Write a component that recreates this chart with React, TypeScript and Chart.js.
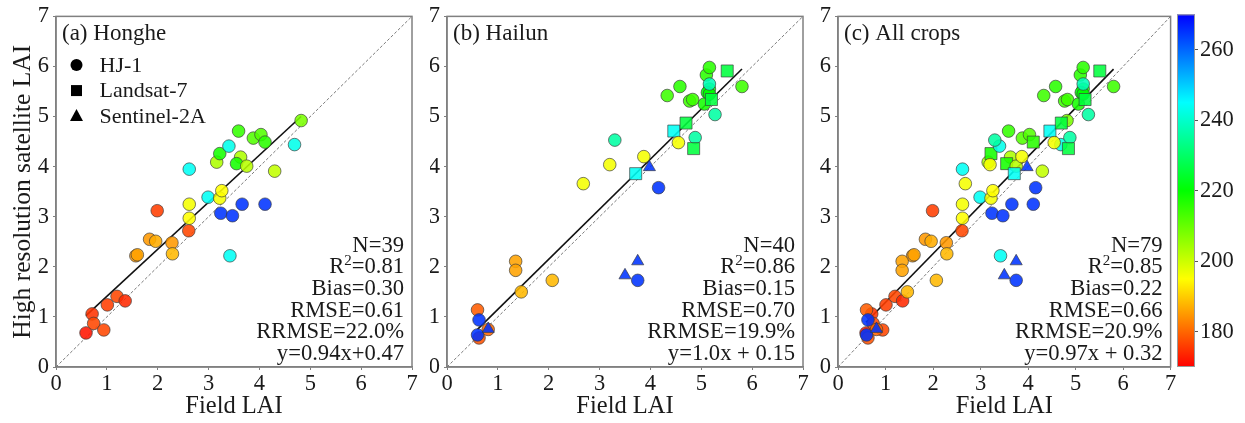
import React, { useEffect, useRef } from 'react';
import { Chart, registerables } from 'chart.js';

Chart.register(...registerables);

const FONT = "'Liberation Serif', 'Times New Roman', serif";

// ---------------- data ----------------
// (a) Honghe: field LAI, satellite LAI, DOY, sensor (H = HJ-1, L = Landsat-7, S = Sentinel-2A)
const hongheField = [0.59, 0.71, 0.74, 0.94, 1.01, 1.2, 1.36, 1.57, 1.6, 1.84, 1.96, 1.99, 2.28, 2.29, 2.61, 2.62, 2.62, 2.62, 2.99, 3.22, 3.26, 3.16, 3.22, 3.4, 3.24, 3.47, 3.66, 4.11, 3.42, 3.59, 3.63, 3.55, 3.75, 3.88, 4.03, 4.11, 4.3, 4.69, 4.82];
const hongheSat = [0.68, 1.06, 0.87, 0.74, 1.24, 1.41, 1.32, 2.22, 2.24, 2.55, 2.51, 3.12, 2.48, 2.26, 2.72, 2.97, 3.25, 3.95, 3.39, 3.37, 3.52, 4.09, 4.26, 4.41, 3.07, 3.02, 3.25, 3.25, 2.22, 4.71, 4.19, 4.06, 4.01, 4.57, 4.64, 4.49, 3.91, 4.44, 4.92];
const hongheDoy = [172, 175, 177, 177, 176, 177, 174, 185, 186, 185, 187, 176, 185, 188, 177, 195, 196, 244, 244, 196, 195, 203, 218, 243, 265, 265, 265, 265, 244, 215, 203, 218, 202, 212, 212, 216, 201, 243, 208];
const hongheSensor = ['H', 'H', 'H', 'H', 'H', 'H', 'H', 'H', 'H', 'H', 'H', 'H', 'H', 'H', 'H', 'H', 'H', 'H', 'H', 'H', 'H', 'H', 'H', 'H', 'H', 'H', 'H', 'H', 'H', 'H', 'H', 'H', 'H', 'H', 'H', 'H', 'H', 'H', 'H'];

// (b) Hailun
const hailunField = [0.63, 0.6, 0.81, 0.6, 0.63, 0.81, 1.35, 1.35, 1.46, 2.07, 2.68, 3.2, 3.3, 3.87, 3.71, 3.98, 4.16, 3.5, 3.75, 3.75, 4.33, 4.58, 4.46, 4.7, 4.55, 4.77, 4.83, 4.88, 4.85, 5.06, 5.1, 5.16, 5.16, 5.12, 5.16, 5.16, 5.2, 5.27, 5.51, 5.8];
const hailunSat = [0.58, 1.14, 0.75, 0.64, 0.94, 0.76, 2.11, 1.93, 1.5, 1.73, 3.66, 4.04, 4.53, 4.2, 3.86, 3.99, 3.58, 1.83, 2.11, 1.73, 5.42, 5.6, 4.71, 4.87, 4.48, 5.31, 5.34, 4.58, 4.36, 5.25, 5.83, 5.98, 5.55, 5.48, 5.45, 5.65, 5.34, 5.04, 5.91, 5.6];
const hailunDoy = [178, 179, 180, 265, 265, 265, 186, 186, 188, 188, 196, 196, 236, 196, 244, 265, 265, 265, 265, 265, 214, 216, 244, 226, 196, 214, 214, 236, 226, 218, 216, 216, 218, 220, 220, 238, 226, 236, 226, 214];
const hailunSensor = ['H', 'H', 'H', 'H', 'H', 'S', 'H', 'H', 'H', 'H', 'H', 'H', 'H', 'H', 'L', 'S', 'H', 'S', 'S', 'H', 'H', 'H', 'L', 'L', 'H', 'H', 'H', 'H', 'L', 'H', 'H', 'H', 'H', 'H', 'H', 'H', 'L', 'H', 'L', 'H'];

// (c) All crops = Honghe + Hailun; these Honghe points are drawn as Landsat-7 squares in (c)
const allCropsHongheSquares = [22, 31, 35];

const hongheStats = ['N=39', 'R2=0.81', 'Bias=0.30', 'RMSE=0.61', 'RRMSE=22.0%', 'y=0.94x+0.47'];
const hailunStats = ['N=40', 'R2=0.86', 'Bias=0.15', 'RMSE=0.70', 'RRMSE=19.9%', 'y=1.0x + 0.15'];
const allStats = ['N=79', 'R2=0.85', 'Bias=0.22', 'RMSE=0.66', 'RRMSE=20.9%', 'y=0.97x + 0.32'];

const fitA = [0.94, 0.47];
const fitB = [1.0, 0.15];
const fitC = [0.97, 0.32];

const axisTicks = [0, 1, 2, 3, 4, 5, 6, 7];
const colorbarTicks = [180, 200, 220, 240, 260];
const legendLabels = ['HJ-1', 'Landsat-7', 'Sentinel-2A'];
const legendSensors = ['H', 'L', 'S'];

const DOY_MIN = 170;
const DOY_MAX = 270;

// ---------------- helpers ----------------
function doyColor(d: number, a = 0.88) {
  const t = Math.min(1, Math.max(0, (d - DOY_MIN) / (DOY_MAX - DOY_MIN)));
  return `hsla(${(240 * t).toFixed(1)}, 100%, 50%, ${a})`;
}
const SHAPE: Record<string, string> = { H: 'circle', L: 'rect', S: 'triangle' };
const RADIUS: Record<string, number> = { H: 6.3, L: 8.5, S: 7 };

const TEXT = '#1a1a1a';
const FRAME = '#808080';

function drawMarker(ctx: CanvasRenderingContext2D, s: string, x: number, y: number) {
  ctx.beginPath();
  if (s === 'H') ctx.arc(x, y, 6, 0, Math.PI * 2);
  else if (s === 'L') ctx.rect(x - 5.5, y - 5.5, 11, 11);
  else {
    ctx.moveTo(x, y - 7);
    ctx.lineTo(x + 6.5, y + 5);
    ctx.lineTo(x - 6.5, y + 5);
    ctx.closePath();
  }
  ctx.fill();
}

interface PanelCfg {
  field: number[];
  sat: number[];
  doy: number[];
  sensor: string[];
  fit: number[];
  title: string;
  stats: string[];
  legend: boolean;
  yTitle: boolean;
  yWidth: number;
  padRight: number;
}

function makePanel(canvas: HTMLCanvasElement, cfg: PanelCfg) {
  const pts = cfg.field.map((x, i) => ({ x, y: cfg.sat[i], d: cfg.doy[i], s: cfg.sensor[i] }));
  const xmin = Math.min(...cfg.field);
  const xmax = Math.max(...cfg.field);
  const [k, b] = cfg.fit;

  const decor = {
    id: 'decor',
    beforeDatasetsDraw(chart: any) {
      const { ctx, chartArea: a } = chart;
      ctx.save();
      ctx.strokeStyle = FRAME;
      ctx.lineWidth = 1.5;
      ctx.strokeRect(a.left, a.top, a.right - a.left, a.bottom - a.top);
      ctx.restore();
    },
    afterDatasetsDraw(chart: any) {
      const { ctx, chartArea: a } = chart;
      ctx.save();
      ctx.fillStyle = TEXT;
      ctx.textBaseline = 'alphabetic';
      ctx.textAlign = 'left';
      ctx.font = `23px ${FONT}`;
      ctx.fillText(cfg.title, a.left + 6, a.top + 24);

      const lh = 21.7;
      const xr = a.right - 8;
      ctx.textAlign = 'right';
      cfg.stats.forEach((ln, i) => {
        const y = a.bottom - 7 - (cfg.stats.length - 1 - i) * lh;
        ctx.font = `22.6px ${FONT}`;
        if (ln.startsWith('R2')) {
          const rest = ln.slice(2);
          const w1 = ctx.measureText(rest).width;
          ctx.fillText(rest, xr, y);
          ctx.font = `15px ${FONT}`;
          const w2 = ctx.measureText('2').width;
          ctx.fillText('2', xr - w1, y - 8);
          ctx.font = `22.6px ${FONT}`;
          ctx.fillText('R', xr - w1 - w2, y);
        } else {
          ctx.fillText(ln, xr, y);
        }
      });

      if (cfg.legend) {
        ctx.textAlign = 'left';
        ctx.textBaseline = 'middle';
        ctx.font = `22px ${FONT}`;
        legendLabels.forEach((lab, i) => {
          const y = a.top + 48.7 + i * 25.5;
          ctx.fillStyle = '#000';
          drawMarker(ctx, legendSensors[i], a.left + 20.5, y);
          ctx.fillStyle = TEXT;
          ctx.fillText(lab, a.left + 43.5, y + 1);
        });
      }
      ctx.restore();
    },
  };

  const tickFont = { family: FONT, size: 22.5, lineHeight: 1.1 };
  const titleFont = { family: FONT, size: 24.5 };

  return new Chart(canvas, {
    type: 'scatter',
    data: {
      datasets: [
        {
          type: 'line',
          data: [{ x: 0, y: 0 }, { x: 7, y: 7 }],
          borderColor: '#7a7a7a',
          borderWidth: 1,
          borderDash: [3, 2],
          pointRadius: 0,
          showLine: true,
          order: 3,
        } as any,
        {
          type: 'line',
          data: [{ x: xmin, y: k * xmin + b }, { x: xmax, y: k * xmax + b }],
          borderColor: '#111',
          borderWidth: 1.6,
          pointRadius: 0,
          showLine: true,
          order: 2,
        } as any,
        {
          type: 'scatter',
          data: pts,
          order: 1,
          pointStyle: (c: any) => SHAPE[c.raw?.s ?? 'H'],
          pointRadius: (c: any) => RADIUS[c.raw?.s ?? 'H'],
          backgroundColor: (c: any) => doyColor(c.raw?.d ?? 200),
          borderColor: 'rgba(60,60,60,0.75)',
          borderWidth: 0.9,
        } as any,
      ],
    },
    options: {
      animation: false,
      responsive: false,
      devicePixelRatio: 1,
      events: [],
      layout: { padding: { top: 13, right: cfg.padRight, left: 0, bottom: 0 } },
      plugins: { legend: { display: false }, tooltip: { enabled: false } },
      scales: {
        x: {
          type: 'linear',
          min: 0,
          max: 7,
          afterBuildTicks: (s: any) => {
            s.ticks = axisTicks.map((v) => ({ value: v }));
          },
          ticks: { font: tickFont, color: TEXT, padding: 2, maxRotation: 0, autoSkip: false },
          grid: { drawOnChartArea: false, drawTicks: true, tickLength: 3, color: FRAME, lineWidth: 1 },
          border: { display: true, color: FRAME, width: 1.5 },
          title: { display: true, text: 'Field LAI', font: titleFont, color: TEXT, padding: { top: 0, bottom: 2 } },
          afterFit: (s: any) => {
            s.height = 56;
          },
        },
        y: {
          type: 'linear',
          min: 0,
          max: 7,
          afterBuildTicks: (s: any) => {
            s.ticks = axisTicks.map((v) => ({ value: v }));
          },
          ticks: { font: tickFont, color: TEXT, padding: 4, autoSkip: false },
          grid: { drawOnChartArea: false, drawTicks: true, tickLength: 3, color: FRAME, lineWidth: 1 },
          border: { display: true, color: FRAME, width: 1.5 },
          title: {
            display: cfg.yTitle,
            text: 'High resolution satellite LAI',
            font: { family: FONT, size: 25.5 },
            color: TEXT,
            padding: { top: 8, bottom: 0 },
          },
          afterFit: (s: any) => {
            s.width = cfg.yWidth;
          },
        },
      },
    } as any,
    plugins: [decor],
  });
}

function makeColorbar(canvas: HTMLCanvasElement) {
  const frame = {
    id: 'cbframe',
    afterDatasetsDraw(chart: any) {
      const { ctx, chartArea: a } = chart;
      ctx.save();
      ctx.strokeStyle = '#9a9a9a';
      ctx.lineWidth = 1;
      ctx.strokeRect(a.left + 0.5, a.top + 0.5, a.right - a.left - 1, a.bottom - a.top - 1);
      ctx.restore();
    },
  };
  return new Chart(canvas, {
    type: 'bar',
    data: {
      labels: [''],
      datasets: [
        {
          data: [[DOY_MIN, DOY_MAX]],
          barPercentage: 1,
          categoryPercentage: 1,
          borderWidth: 0,
          backgroundColor: (c: any) => {
            const chart = c.chart;
            if (!chart.chartArea) return 'transparent';
            const ys = chart.scales.y;
            const g = chart.ctx.createLinearGradient(0, ys.getPixelForValue(DOY_MIN), 0, ys.getPixelForValue(DOY_MAX));
            for (let i = 0; i <= 24; i++) {
              g.addColorStop(i / 24, doyColor(DOY_MIN + ((DOY_MAX - DOY_MIN) * i) / 24, 1));
            }
            return g;
          },
        } as any,
      ],
    },
    options: {
      animation: false,
      responsive: false,
      devicePixelRatio: 1,
      events: [],
      layout: { padding: { top: 13, right: 0, left: 7, bottom: 56 } },
      plugins: { legend: { display: false }, tooltip: { enabled: false } },
      scales: {
        x: { display: false },
        y: {
          position: 'right',
          min: DOY_MIN,
          max: DOY_MAX,
          afterBuildTicks: (s: any) => {
            s.ticks = colorbarTicks.map((v) => ({ value: v }));
          },
          ticks: { font: { family: FONT, size: 22.5, lineHeight: 1.1 }, color: TEXT, padding: 2 },
          grid: { drawOnChartArea: false, drawTicks: true, tickLength: 3, color: '#555', lineWidth: 1 },
          border: { display: false },
          afterFit: (s: any) => {
            s.width = 50;
          },
        },
      },
    } as any,
    plugins: [frame],
  });
}

function ChartCanvas({ left, width, make }: { left: number; width: number; make: (c: HTMLCanvasElement) => Chart }) {
  const ref = useRef<HTMLCanvasElement>(null);
  useEffect(() => {
    const chart = make(ref.current as HTMLCanvasElement);
    return () => chart.destroy();
  }, []);
  return (
    <canvas
      ref={ref}
      width={width}
      height={423}
      style={{ position: 'absolute', left, top: 0, width, height: 423 }}
    />
  );
}

export default function App() {
  const cSensor = [...hongheSensor.map((s, i) => (allCropsHongheSquares.includes(i) ? 'L' : s)), ...hailunSensor];
  return (
    <div style={{ position: 'fixed', left: 0, top: 0, width: 1245, height: 423, background: '#fff', overflow: 'hidden' }}>
      <ChartCanvas
        left={0}
        width={430}
        make={(c) =>
          makePanel(c, {
            field: hongheField,
            sat: hongheSat,
            doy: hongheDoy,
            sensor: hongheSensor,
            fit: fitA,
            title: '(a) Honghe',
            stats: hongheStats,
            legend: true,
            yTitle: true,
            yWidth: 56,
            padRight: 18,
          })
        }
      />
      <ChartCanvas
        left={430}
        width={390}
        make={(c) =>
          makePanel(c, {
            field: hailunField,
            sat: hailunSat,
            doy: hailunDoy,
            sensor: hailunSensor,
            fit: fitB,
            title: '(b) Hailun',
            stats: hailunStats,
            legend: false,
            yTitle: false,
            yWidth: 17,
            padRight: 17,
          })
        }
      />
      <ChartCanvas
        left={820}
        width={360}
        make={(c) =>
          makePanel(c, {
            field: [...hongheField, ...hailunField],
            sat: [...hongheSat, ...hailunSat],
            doy: [...hongheDoy, ...hailunDoy],
            sensor: cSensor,
            fit: fitC,
            title: '(c) All crops',
            stats: allStats,
            legend: false,
            yTitle: false,
            yWidth: 18,
            padRight: 9,
          })
        }
      />
      <ChartCanvas left={1170} width={75} make={makeColorbar} />
    </div>
  );
}
